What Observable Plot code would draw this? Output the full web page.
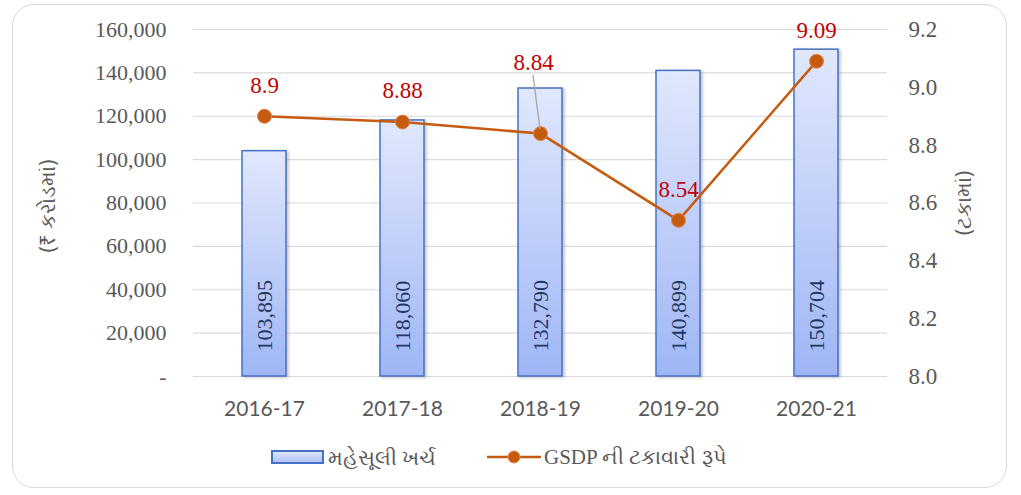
<!DOCTYPE html>
<html>
<head>
<meta charset="utf-8">
<script src="https://cdn.jsdelivr.net/npm/d3@7"></script>
<script src="https://cdn.jsdelivr.net/npm/@observablehq/plot@0.6"></script>
<style>
  html, body { margin: 0; padding: 0; background: #fff; width: 1021px; height: 495px; overflow: hidden; }
  #frame { position: absolute; left: 12px; top: 4px; width: 995px; height: 484px; border: 1.5px solid #d9d9d9; border-radius: 22px; box-sizing: border-box; }
  #chart { position: absolute; left: 0; top: 0; }
  #legend { position: absolute; top: 443px; left: 0; width: 1021px; height: 28px; font-size: 21px; color: #595959; }
  .item { position: absolute; top: 0; display: flex; align-items: center; height: 28px; }
</style>
</head>
<body>
<div id="frame"></div>
<div id="chart"></div>
<div id="legend">
  <div class="item" style="left:271px">
    <svg width="54" height="16"><rect x="1" y="2" width="51" height="12" fill="url(#legGrad)" stroke="#4472c4" stroke-width="2"/>
      <defs><linearGradient id="legGrad" x1="0" y1="0" x2="0" y2="1"><stop offset="0" stop-color="#e3e9fc"/><stop offset="1" stop-color="#a9bff6"/></linearGradient></defs></svg>
    <span id="leg1" style="margin-left:3px;font-family:'Noto Sans','DejaVu Sans',sans-serif;"></span>
  </div>
  <div class="item" style="left:486px">
    <svg width="56" height="16"><line x1="1" y1="8" x2="55" y2="8" stroke="#c55a11" stroke-width="2.5"/><circle cx="28" cy="8" r="6" fill="#c55a11" stroke="#e2884a" stroke-width="1"/></svg>
    <span id="leg2" style="margin-left:2px;font-family:'Liberation Serif','Noto Sans',serif;"></span>
  </div>
</div>
<script>
// ---- data ----
const years = ["2016-17", "2017-18", "2018-19", "2019-20", "2020-21"];
const expenditure = [103895, 118060, 132790, 140899, 150704];
const gsdpShare = [8.9, 8.88, 8.84, 8.54, 9.09];
const leftTicks = [0, 20000, 40000, 60000, 80000, 100000, 120000, 140000, 160000];
const rightTicks = [8.0, 8.2, 8.4, 8.6, 8.8, 9.0, 9.2];
const leftTitle = "(₹ કરોડમાં)";
const rightTitle = "(ટકામાં)";
const seriesBar = "મહેસૂલી ખર્ચ";
const seriesLine = "GSDP ની ટકાવારી રૂપે";

document.getElementById("leg1").textContent = seriesBar;
document.getElementById("leg2").textContent = seriesLine;

const yMax = 160000, rMin = 8.0, rMax = 9.2;
const toY = v => (v - rMin) / (rMax - rMin) * yMax;
const fromY = y => rMin + y / yMax * (rMax - rMin);

const rows = years.map((y, i) => ({year: y, exp: expenditure[i], pct: gsdpShare[i], py: toY(gsdpShare[i])}));
const movedLabel = "2018-19";

const serif = "'Liberation Serif', 'Times New Roman', serif";
const sans = "Lato, 'Open Sans', sans-serif";

const chart = Plot.plot({
  width: 1021,
  height: 420,
  marginLeft: 193,
  marginRight: 134,
  marginTop: 29,
  marginBottom: 44,
  style: {color: "#595959", background: "transparent", overflow: "visible"},
  x: {domain: years, paddingInner: 0.68, paddingOuter: 0.34, label: null},
  y: {domain: [0, yMax], label: null},
  marks: [
    Plot.ruleY(leftTicks, {stroke: "#d9d9d9", strokeWidth: 1.2}),
    Plot.barY(rows, {x: "year", y: "exp", fill: "url(#barGrad)", stroke: "#4472c4", strokeWidth: 1.5, filter: null, className: "bars"}),
    Plot.text(rows, {x: "year", y: 0, text: d => d3.format(",")(d.exp), rotate: -90, textAnchor: "start", lineAnchor: "middle", dy: -25, fill: "#1f3864", fontFamily: serif, fontSize: 22}),
    Plot.axisY(leftTicks, {anchor: "left", tickSize: 0, tickPadding: 27, label: null, fontFamily: serif, fontSize: 22, tickFormat: d => d === 0 ? "-" : d3.format(",")(d)}),
    Plot.axisY(rightTicks.map(toY), {anchor: "right", tickSize: 0, tickPadding: 21, label: null, fontFamily: serif, fontSize: 23, textAnchor: "start", tickFormat: d => fromY(d).toFixed(1)}),
    Plot.axisX({tickSize: 0, tickPadding: 25, label: null, fontFamily: sans, fontSize: 21}),
    Plot.text([leftTitle], {frameAnchor: "left", dx: -145, dy: 3, rotate: -90, textAnchor: "middle", fontSize: 21, fill: "#595959", fontFamily: "'Noto Sans', sans-serif"}),
    Plot.text([rightTitle], {frameAnchor: "right", dx: 77, dy: 0, rotate: -90, textAnchor: "middle", fontSize: 21, fill: "#595959", fontFamily: "'Noto Sans', sans-serif"}),
    Plot.line(rows, {x: "year", y: "py", stroke: "#c55a11", strokeWidth: 2.5}),
    Plot.dot(rows, {x: "year", y: "py", r: 7, fill: "#c55a11", stroke: "#e2884a", strokeWidth: 1}),
    Plot.text(rows.filter(d => d.year !== movedLabel), {x: "year", y: "py", text: d => String(d.pct), dy: -31, fill: "#c00000", fontFamily: serif, fontSize: 23}),
    Plot.text(rows.filter(d => d.year === movedLabel), {x: "year", y: "py", text: d => String(d.pct), dy: -71, dx: -7, fill: "#c00000", fontFamily: serif, fontSize: 23})
  ]
});

// gradient and shadow for bars
const svg = d3.select(chart);
svg.insert("defs", ":first-child").html(
  '<linearGradient id="barGrad" x1="0" y1="0" x2="0" y2="1">' +
  '<stop offset="0" stop-color="#e1e8fd"/><stop offset="1" stop-color="#9fb6f5"/></linearGradient>' +
  '<filter id="barShadow" x="-20%" y="-5%" width="140%" height="110%"><feDropShadow dx="2" dy="1" stdDeviation="1.5" flood-color="#7f7f7f" flood-opacity="0.45"/></filter>');
svg.select("g.bars").attr("filter", "url(#barShadow)");
document.getElementById("chart").appendChild(chart);

// leader line for the moved label, positioned with the plot's scales
const xs = chart.scale("x"), ys = chart.scale("y");
const r = rows.find(d => d.year === movedLabel);
const cx = xs.apply(r.year) + xs.bandwidth / 2;
const cy = ys.apply(r.py);
svg.append("line").attr("x1", cx - 7).attr("y1", cy - 58).attr("x2", cx).attr("y2", cy - 4)
  .attr("stroke", "#a6a6a6").attr("stroke-width", 1.3);
// keep line and dots on top
svg.selectAll("path").filter(function() { return this.getAttribute("stroke") === "#c55a11"; }).raise();
svg.selectAll("circle").raise();
</script>
</body>
</html>
